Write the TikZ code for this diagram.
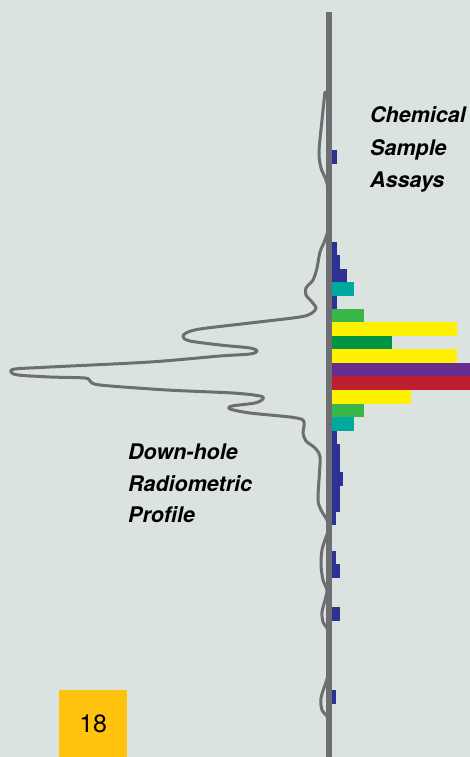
\documentclass[tikz,border=0pt]{standalone}
\usepackage{fontspec}
\setsansfont{TeX Gyre Heros}
\definecolor{paper}{RGB}{218,227,224}
\definecolor{axisgrey}{RGB}{109,110,113}
\definecolor{assayblue}{RGB}{46,49,146}
\definecolor{assayteal}{RGB}{0,169,157}
\definecolor{assaygreen}{RGB}{57,181,74}
\definecolor{assayyellow}{RGB}{255,242,0}
\definecolor{assaydkgreen}{RGB}{0,148,68}
\definecolor{assaypurple}{RGB}{102,45,145}
\definecolor{assayred}{RGB}{190,30,45}
\definecolor{tabyellow}{RGB}{255,194,14}
\tikzset{
    profile/.style={draw=axisgrey, line width=3pt, line join=round, line cap=round},
    axisline/.style={draw=axisgrey, line width=6pt},
    assay/.style={fill=#1},
    caption/.style={font=\sffamily\bfseries\itshape\fontsize{21.5}{26}\selectfont, anchor=base west, inner sep=0},
    pagetab/.style={fill=tabyellow, minimum width=68pt, minimum height=67pt, inner sep=0,
        font=\sffamily\fontsize{25}{30}\selectfont}
}

\begin{document}
\begin{tikzpicture}[x=1pt, y=-1pt]
    \fill[paper] (0,0) rectangle (470,757);
    \useasboundingbox (0,0) rectangle (470,757);

    % radiometric profile
    \draw[profile] plot[smooth, tension=0.5] coordinates {
        (325,92) (322,120) (319,152) (321,168) (326,180) (329,195) (329,225)
        (325,240) (320,252) (317,268) (313,280) (306,288) (306,295) (312,302)
        (316,308) (312,313) (300,317) (250,323) (200,329) (186,333) (183,337)
        (190,341) (220,345) (250,348) (257,351) (250,354) (220,356) (150,362)
        (50,367) (15,369) (11,372) (18,375) (50,377) (85,378) (90,381) (100,385)
        (167,390) (233,393) (260,396) (263,399) (255,403) (232,406) (230,409)
        (250,413) (290,417) (303,420) (304,426) (303,433) (306,441) (315,448)
        (320,457) (319,480) (318,500) (321,510) (327,520) (329,528) (326,537)
        (322,550) (321,565) (323,580) (327,590) (325,600) (322,612) (323,622)
        (328,630) (329,640) (329,670) (326,682) (321,698) (322,710) (328,718)
        (329,730) (329,757)};

    % drill hole
    \coordinate (holetop) at (329,12);
    \coordinate (holebot) at (329,757);
    \draw[axisline] (holetop) -- (holebot);

    % assay bars
    \foreach \ya/\yb/\xe/\c in {
        150/164/337/assayblue, 242/255/337/assayblue, 255/269/340/assayblue,
        269/282/347/assayblue, 282/296/354/assayteal, 296/309/337/assayblue,
        309/322/364/assaygreen, 322/336/457/assayyellow, 336/349/392/assaydkgreen,
        349/363/457/assayyellow, 363/376/470/assaypurple, 376/390/470/assayred,
        390/404/411/assayyellow, 404/417/364/assaygreen, 417/431/354/assayteal,
        431/444/337/assayblue, 444/472/340/assayblue, 472/486/343/assayblue,
        486/512/340/assayblue, 512/525/336/assayblue, 551/564/336/assayblue,
        564/578/340/assayblue, 607/621/340/assayblue, 690/704/336/assayblue}
        \fill[assay=\c] (332,\ya) rectangle (\xe,\yb);

    % labels
    \node[caption] (chemA) at (370,123) {Chemical};
    \node[caption] (chemB) at (370,155) {Sample};
    \node[caption] (chemC) at (370,187) {Assays};
    \node[caption] (holeA) at (128,459) {Down-hole};
    \node[caption] (holeB) at (128,491) {Radiometric};
    \node[caption] (holeC) at (128,522) {Profile};

    \node[pagetab, anchor=north west] (pagenum) at (59,690) {18};
\end{tikzpicture}
\end{document}
